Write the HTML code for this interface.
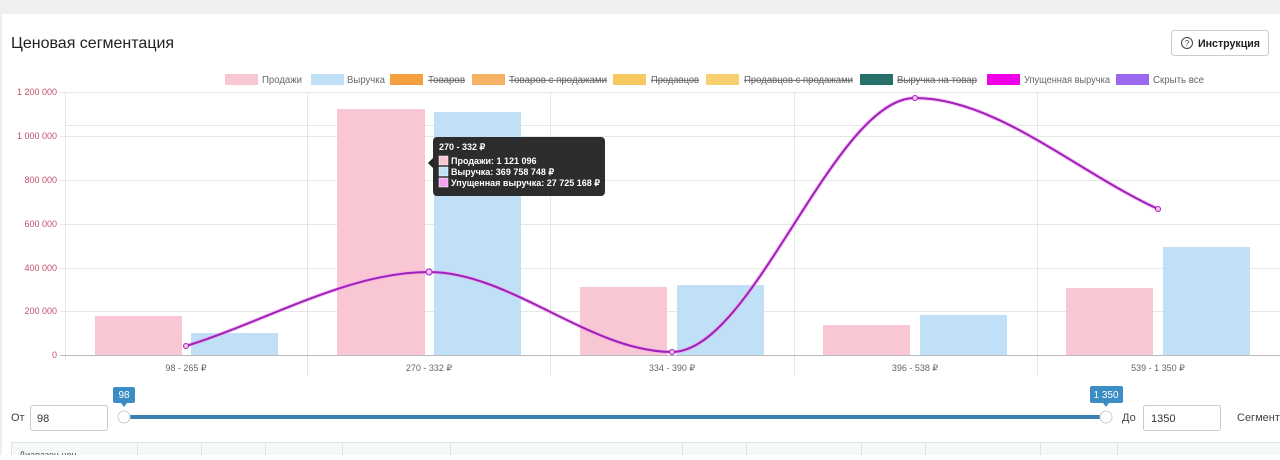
<!DOCTYPE html>
<html><head><meta charset="utf-8"><style>
body{margin:0;width:1280px;height:455px;overflow:hidden;background:#fff;font-family:"Liberation Sans",sans-serif;}
</style></head><body>
<svg width="1280" height="455" xmlns="http://www.w3.org/2000/svg" font-family="Liberation Sans, sans-serif">
<rect x="0" y="0" width="1280" height="14" fill="#efefef"/>
<line x1="1" y1="14" x2="1" y2="455" stroke="#ddd"/>
<text x="11" y="48" font-size="16" fill="#222">Ценовая сегментация</text>
<rect x="1171.5" y="30.5" width="97" height="25" rx="3" fill="#fff" stroke="#ccc"/>
<circle cx="1187" cy="43" r="5.5" fill="none" stroke="#444" stroke-width="1"/>
<text x="1187" y="46" font-size="8" text-anchor="middle" fill="#444">?</text>
<text x="1198" y="47" font-size="11" fill="#222" font-weight="bold" textLength="62" lengthAdjust="spacingAndGlyphs">Инструкция</text>
<g font-size="10" fill="#666" lengthAdjust="spacingAndGlyphs">
<rect x="225" y="74" width="33" height="11" fill="#f9c6d3"/><text x="262" y="83" textLength="40" lengthAdjust="spacingAndGlyphs">Продажи</text>
<rect x="311" y="74" width="33" height="11" fill="#bfe0f7"/><text x="347" y="83" textLength="38" lengthAdjust="spacingAndGlyphs">Выручка</text>
<rect x="390" y="74" width="33" height="11" fill="#f4a040"/><text x="428" y="83" textLength="37" lengthAdjust="spacingAndGlyphs" text-decoration="line-through">Товаров</text>
<rect x="472" y="74" width="33" height="11" fill="#f4a040" opacity="0.8"/><text x="509" y="83" textLength="98" lengthAdjust="spacingAndGlyphs" text-decoration="line-through">Товаров с продажами</text>
<rect x="613" y="74" width="33" height="11" fill="#f8c860"/><text x="651" y="83" textLength="48" lengthAdjust="spacingAndGlyphs" text-decoration="line-through">Продавцов</text>
<rect x="706" y="74" width="33" height="11" fill="#f8d070"/><text x="744" y="83" textLength="109" lengthAdjust="spacingAndGlyphs" text-decoration="line-through">Продавцов с продажами</text>
<rect x="860" y="74" width="33" height="11" fill="#27706a"/><text x="897" y="83" textLength="80" lengthAdjust="spacingAndGlyphs" text-decoration="line-through">Выручка на товар</text>
<rect x="987" y="74" width="33" height="11" fill="#f000e8"/><text x="1024" y="83" textLength="86" lengthAdjust="spacingAndGlyphs">Упущенная выручка</text>
<rect x="1116" y="74" width="33" height="11" fill="#9b68f0"/><text x="1153" y="83" textLength="51" lengthAdjust="spacingAndGlyphs">Скрыть все</text>
</g>
<g stroke="#e6e6e6" stroke-width="1">
<line x1="60" y1="92.5" x2="1280" y2="92.5"/><line x1="65" y1="125.5" x2="1280" y2="125.5"/>
<line x1="60" y1="136.5" x2="1280" y2="136.5"/><line x1="60" y1="180.5" x2="1280" y2="180.5"/>
<line x1="60" y1="224.5" x2="1280" y2="224.5"/><line x1="60" y1="268.5" x2="1280" y2="268.5"/>
<line x1="60" y1="311.5" x2="1280" y2="311.5"/>
<line x1="65.5" y1="92" x2="65.5" y2="360"/><line x1="307.5" y1="92" x2="307.5" y2="375"/>
<line x1="550.5" y1="92" x2="550.5" y2="375"/><line x1="794.5" y1="92" x2="794.5" y2="375"/>
<line x1="1037.5" y1="92" x2="1037.5" y2="375"/>
</g>
<line x1="60" y1="355.5" x2="1280" y2="355.5" stroke="#bbb"/>
<g font-size="9" fill="#c0506a" text-anchor="end">
<text x="57" y="95">1 200 000</text><text x="57" y="139">1 000 000</text><text x="57" y="183">800 000</text>
<text x="57" y="227">600 000</text><text x="57" y="271">400 000</text><text x="57" y="314">200 000</text><text x="57" y="358">0</text>
</g>
<g fill="#f9c6d3">
<rect x="95" y="316" width="87" height="39"/><rect x="337" y="109" width="88" height="246"/>
<rect x="580" y="287" width="87" height="68"/><rect x="823" y="325" width="87" height="30"/>
<rect x="1066" y="288" width="87" height="67"/>
</g>
<g fill="#bfe0f7">
<rect x="191" y="333" width="87" height="22"/><rect x="434" y="112" width="87" height="243"/>
<rect x="677" y="285" width="87" height="70"/><rect x="920" y="315" width="87" height="40"/>
<rect x="1163" y="247" width="87" height="108"/>
</g>
<g font-size="9" fill="#666" text-anchor="middle">
<text x="186" y="371">98 - 265 ₽</text><text x="429" y="371">270 - 332 ₽</text><text x="672" y="371">334 - 390 ₽</text>
<text x="915" y="371">396 - 538 ₽</text><text x="1158" y="371">539 - 1 350 ₽</text>
</g>
<path d="M186,346 C267,321 348,272 429,272 C510,272 591,352 672,352 C753,352 834,98 915,98 C996,98 1077,172 1158,209" fill="none" stroke="#f0a0f0" stroke-width="4" opacity="0.6"/>
<path d="M186,346 C267,321 348,272 429,272 C510,272 591,352 672,352 C753,352 834,98 915,98 C996,98 1077,172 1158,209" fill="none" stroke="#a020b8" stroke-width="2"/>
<g fill="#f6c0f0" stroke="#a020b8" stroke-width="1">
<circle cx="186" cy="346" r="2.5"/><circle cx="429" cy="272" r="3"/><circle cx="672" cy="352" r="2.5"/><circle cx="915" cy="98" r="2.5"/><circle cx="1158" cy="209" r="2.5"/>
</g>
<rect x="433" y="137" width="172" height="59" rx="4" fill="#222" opacity="0.95"/>
<path d="M433,158 l-5,5 l5,5z" fill="#222"/>
<g font-size="9" fill="#fff" font-weight="bold">
<text x="439" y="150">270 - 332 ₽</text>
<rect x="439" y="156" width="9" height="9" fill="#f9c6d3" stroke="#fff" stroke-width="0.5"/><text x="451" y="164">Продажи: 1 121 096</text>
<rect x="439" y="167" width="9" height="9" fill="#bfe0f7" stroke="#fff" stroke-width="0.5"/><text x="451" y="175">Выручка: 369 758 748 ₽</text>
<rect x="439" y="178" width="9" height="9" fill="#f6a0f0" stroke="#fff" stroke-width="0.5"/><text x="451" y="186">Упущенная выручка: 27 725 168 ₽</text>
</g>
<text x="11" y="421" font-size="11" fill="#444">От</text>
<rect x="30.5" y="405.5" width="77" height="25" rx="2" fill="#fff" stroke="#ccc"/>
<text x="37" y="422" font-size="11" fill="#333">98</text>
<rect x="124" y="415" width="982" height="4" fill="#3a7fb0"/>
<circle cx="124" cy="417" r="6" fill="#fff" stroke="#ccc"/>
<circle cx="1106" cy="417" r="6" fill="#fff" stroke="#ccc"/>
<rect x="113" y="387" width="22" height="16" rx="2" fill="#3c8dc5"/><path d="M121,403 l3,4 l3,-4z" fill="#3c8dc5"/>
<text x="124" y="398" font-size="10" fill="#fff" text-anchor="middle">98</text>
<rect x="1090" y="386" width="33" height="17" rx="2" fill="#3c8dc5"/><path d="M1103,403 l3,4 l3,-4z" fill="#3c8dc5"/>
<text x="1106" y="398" font-size="10" fill="#fff" text-anchor="middle">1 350</text>
<text x="1122" y="421" font-size="11" fill="#444">До</text>
<rect x="1143.5" y="405.5" width="77" height="25" rx="2" fill="#fff" stroke="#ccc"/>
<text x="1151" y="422" font-size="11" fill="#333">1350</text>
<text x="1237" y="421" font-size="11" fill="#444">Сегмент</text>
<rect x="11.5" y="442.5" width="1270" height="15" fill="#f5f9fa" stroke="#e2e2e2"/>
<g stroke="#e2e2e2"><line x1="137.5" y1="443" x2="137.5" y2="455"/><line x1="201.5" y1="443" x2="201.5" y2="455"/><line x1="265.5" y1="443" x2="265.5" y2="455"/><line x1="342.5" y1="443" x2="342.5" y2="455"/><line x1="450.5" y1="443" x2="450.5" y2="455"/><line x1="682.5" y1="443" x2="682.5" y2="455"/><line x1="746.5" y1="443" x2="746.5" y2="455"/><line x1="861.5" y1="443" x2="861.5" y2="455"/><line x1="925.5" y1="443" x2="925.5" y2="455"/><line x1="1040.5" y1="443" x2="1040.5" y2="455"/><line x1="1117.5" y1="443" x2="1117.5" y2="455"/></g>
<text x="19" y="458" font-size="9" fill="#555">Диапазон цен</text>
</svg>
</body></html>
